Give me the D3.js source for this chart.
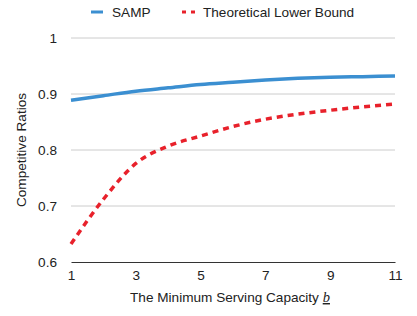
<!DOCTYPE html>
<html><head><meta charset="utf-8">
<script src="https://cdn.jsdelivr.net/npm/d3@7"></script>
<style>body{margin:0;background:#fff}svg{display:block}text{font-family:"Liberation Sans",Arial,Helvetica,sans-serif;fill:#222}</style>
</head><body><div id="chart"></div>
<script>
const bValues = [1,2,3,4,5,6,7,8,9,10,11];
const sampValues = [0.889,0.897,0.905,0.911,0.917,0.921,0.925,0.928,0.930,0.931,0.932];
const lowerBoundValues = [0.632,0.712,0.776,0.807,0.825,0.842,0.855,0.864,0.871,0.877,0.882];
const xTicks = [1,3,5,7,9,11];
const yTicks = [0.6,0.7,0.8,0.9,1];
const seriesNames = ["SAMP","Theoretical Lower Bound"];

const W=417,H=316,FS=13.6;
const m={left:71,right:22,top:38,bottom:54};
const svg=d3.select("#chart").append("svg").attr("width",W).attr("height",H);
const x=d3.scaleLinear().domain([1,11]).range([m.left,W-m.right]);
const y=d3.scaleLinear().domain([0.6,1]).range([H-m.bottom,m.top]);

// gridlines
svg.append("g").selectAll("line").data(yTicks.filter(d=>d>0.6)).join("line")
  .attr("x1",x(1)).attr("x2",x(11)).attr("y1",d=>y(d)).attr("y2",d=>y(d))
  .attr("stroke","#cccccc").attr("stroke-width",1);
// y labels
svg.append("g").selectAll("text").data(yTicks).join("text")
  .attr("x",57).attr("y",d=>y(d)).attr("dy","0.35em").attr("text-anchor","end")
  .attr("font-size",FS).text(d=>d===1?"1":d3.format(".1f")(d));
// x axis
const xAxis=d3.axisBottom(x).tickValues(xTicks).tickSize(0).tickPadding(8).tickFormat(d3.format("d"));
const gx=svg.append("g").attr("transform",`translate(0,${y(0.6)})`).call(xAxis);
gx.select(".domain").attr("stroke","#333").attr("stroke-width",1.2);
gx.selectAll("text").attr("font-size",FS).attr("fill","#222").style("font-family","Liberation Sans, Arial, sans-serif");

const line=d3.line().x((d,i)=>x(bValues[i])).y(d=>y(d)).curve(d3.curveMonotoneX);
svg.append("path").datum(sampValues).attr("d",line).attr("fill","none")
  .attr("stroke","#3b8fd1").attr("stroke-width",3.5);
svg.append("path").datum(lowerBoundValues).attr("d",line).attr("fill","none")
  .attr("stroke","#e8212b").attr("stroke-width",3.5).attr("stroke-dasharray","6,5");

// axis titles
const xt=svg.append("text").attr("x",230).attr("y",302).attr("text-anchor","middle").attr("font-size",FS);
xt.append("tspan").text("The Minimum Serving Capacity ");
xt.append("tspan").text("b").style("font-family","Liberation Serif, serif").style("font-style","italic")
  .style("text-decoration","underline").attr("font-size",14.5);
svg.append("text").attr("transform",`translate(26,${(y(0.6)+y(1))/2}) rotate(-90)`)
  .attr("text-anchor","middle").attr("font-size",FS).text("Competitive Ratios");

// legend
const lg=svg.append("g");
lg.append("line").attr("x1",91).attr("x2",103).attr("y1",12).attr("y2",12).attr("stroke","#3b8fd1").attr("stroke-width",3);
lg.append("text").attr("x",112).attr("y",12).attr("dy","0.35em").attr("font-size",FS).text(seriesNames[0]);
lg.append("line").attr("x1",182).attr("x2",196).attr("y1",12).attr("y2",12).attr("stroke","#e8212b").attr("stroke-width",3).attr("stroke-dasharray","4,5");
lg.append("text").attr("x",203).attr("y",12).attr("dy","0.35em").attr("font-size",FS).text(seriesNames[1]);
</script></body></html>
